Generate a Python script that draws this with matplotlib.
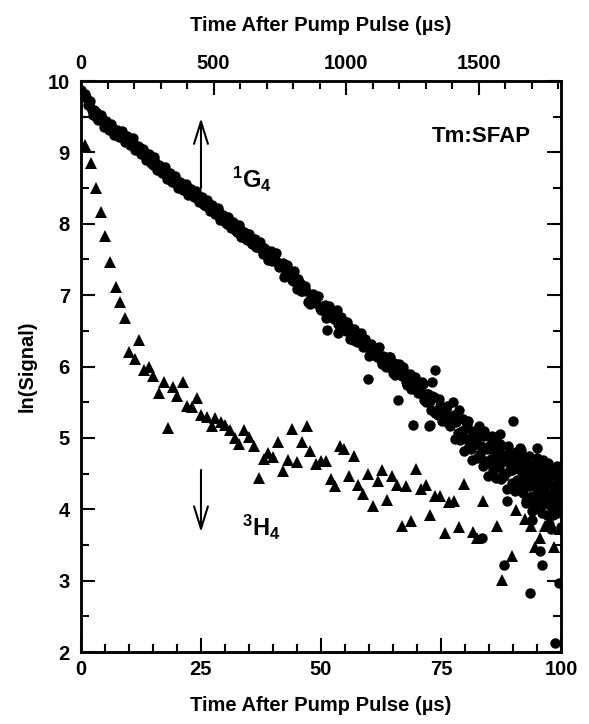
import numpy as np
import matplotlib
matplotlib.use('Agg')
import matplotlib.pyplot as plt
from matplotlib.ticker import MultipleLocator

plt.rcParams['font.family'] = ['Liberation Sans', 'DejaVu Sans']
plt.rcParams['font.weight'] = 'bold'
plt.rcParams['axes.labelweight'] = 'bold'
plt.rcParams['mathtext.fontset'] = 'custom'
plt.rcParams['mathtext.rm'] = 'Liberation Sans:bold'
plt.rcParams['mathtext.bf'] = 'Liberation Sans:bold'
plt.rcParams['mathtext.default'] = 'rm'

# 3H4 decay, bottom axis (us)
h4_t = [0.8, 2.0, 3.1, 4.1, 5.1, 6.1, 7.2, 8.2, 9.2, 10.0,
        11.2, 12.1, 13.1, 14.1, 15.1, 16.2, 17.2, 18.2, 19.2, 20.1,
        21.2, 22.1, 23.2, 24.1, 25.1, 26.2, 27.2, 28.0, 29.1, 30.1,
        31.0, 32.1, 33.0, 34.0, 35.0, 36.0, 37.0, 38.1, 39.0, 40.1,
        41.0, 42.0, 43.1, 44.0, 45.1, 46.0, 47.0, 47.8, 49.0, 50.0,
        51.0, 52.0, 52.9, 53.9, 54.9, 55.9, 56.9, 57.8, 58.8, 59.9,
        60.8, 61.8, 62.8, 63.8, 64.7, 65.8, 66.8, 67.8, 68.8, 69.8,
        70.8, 71.8, 72.7, 73.8, 74.8, 75.8, 76.7, 77.8, 78.8, 79.8,
        81.6, 82.6, 83.7, 86.6, 87.8, 89.7, 90.7, 92.6, 93.7, 94.6,
        95.7, 96.6, 98.6, 99.8]
h4_ln = [9.10, 8.85, 8.50, 8.16, 7.83, 7.46, 7.12, 6.91, 6.68, 6.21,
         6.11, 6.37, 5.95, 5.99, 5.87, 5.63, 5.78, 5.14, 5.71, 5.59,
         5.79, 5.45, 5.43, 5.56, 5.32, 5.29, 5.16, 5.28, 5.22, 5.18,
         5.11, 5.00, 4.92, 5.11, 5.01, 4.89, 4.44, 4.70, 4.79, 4.73,
         4.94, 4.54, 4.69, 5.13, 4.66, 4.94, 5.17, 4.82, 4.64, 4.67,
         4.68, 4.43, 4.32, 4.88, 4.85, 4.46, 4.74, 4.34, 4.21, 4.50,
         4.04, 4.40, 4.55, 4.13, 4.47, 4.34, 3.77, 4.33, 3.83, 4.56,
         4.29, 4.34, 3.92, 4.19, 4.19, 3.67, 4.10, 4.11, 3.75, 4.36,
         3.68, 3.60, 4.12, 3.77, 3.01, 3.35, 3.99, 3.86, 3.76, 3.47,
         3.60, 3.77, 3.47, 3.72]

# 1G4 decay, top axis (us): main sweep
g4_t = [0, 10, 20, 30, 40, 50, 60, 70, 80, 90,
        100, 110, 120, 130, 140, 150, 160, 170, 180, 190,
        200, 210, 220, 230, 240, 250, 260, 270, 280, 290,
        300, 310, 320, 330, 340, 350, 360, 370, 380, 390,
        400, 410, 420, 430, 440, 450, 460, 470, 480, 490,
        500, 510, 520, 530, 540, 550, 560, 570, 580, 590,
        600, 610, 620, 630, 640, 650, 660, 670, 680, 690,
        700, 710, 720, 730, 740, 750, 760, 770, 780, 790,
        800, 810, 820, 830, 840, 850, 860, 870, 880, 890,
        900, 910, 920, 930, 940, 950, 960, 970, 980, 990,
        1000, 1010, 1020, 1030, 1040, 1050, 1060, 1070, 1080, 1090,
        1100, 1110, 1120, 1130, 1140, 1150, 1160, 1170, 1180, 1190,
        1200, 1210, 1220, 1230, 1240, 1250, 1260, 1270, 1280, 1290,
        1300, 1310, 1320, 1330, 1340, 1350, 1360, 1370, 1380, 1390,
        1400, 1405, 1410, 1415, 1420, 1425, 1430, 1435, 1440, 1445,
        1450, 1455, 1460, 1465, 1470, 1475, 1480, 1485, 1490, 1495,
        1500, 1505, 1510, 1515, 1520, 1525, 1530, 1535, 1540, 1545,
        1550, 1555, 1560, 1565, 1570, 1575, 1580, 1585, 1590, 1595,
        1600, 1605, 1610, 1615, 1620, 1625, 1630, 1635, 1640, 1645,
        1650, 1655, 1660, 1665, 1670, 1675, 1680, 1685, 1690, 1695,
        1700, 1705, 1710, 1715, 1720, 1725, 1730, 1735, 1740, 1745,
        1750, 1755, 1760, 1765, 1770, 1775, 1780, 1785, 1790, 1795,
        1800, 1805, 1810]
g4_ln = [9.88, 9.77, 9.78, 9.68, 9.60, 9.59, 9.48, 9.49, 9.47, 9.39,
         9.34, 9.39, 9.30, 9.31, 9.27, 9.21, 9.25, 9.21, 9.13, 9.18,
         9.11, 9.05, 9.08, 9.02, 8.99, 8.91, 8.94, 8.83, 8.86, 8.80,
         8.74, 8.77, 8.68, 8.70, 8.65, 8.58, 8.62, 8.54, 8.56, 8.49,
         8.47, 8.49, 8.40, 8.43, 8.35, 8.37, 8.33, 8.25, 8.29, 8.20,
         8.22, 8.13, 8.17, 8.08, 8.09, 8.00, 8.05, 7.96, 7.98, 7.88,
         7.92, 7.85, 7.80, 7.85, 7.75, 7.78, 7.68, 7.73, 7.64, 7.66,
         7.57, 7.60, 7.48, 7.58, 7.47, 7.41, 7.45, 7.28, 7.34, 7.34,
         7.20, 7.19, 7.22, 7.06, 7.07, 7.06, 6.92, 6.99, 6.91, 6.98,
         6.82, 6.84, 6.86, 6.69, 6.77, 6.78, 6.66, 6.59, 6.69, 6.59,
         6.50, 6.56, 6.46, 6.53, 6.34, 6.40, 6.31, 6.38, 6.28, 6.17,
         6.27, 6.17, 6.26, 6.09, 6.15, 6.00, 6.13, 6.02, 6.05, 5.90,
         6.03, 5.87, 5.91, 5.74, 5.89, 5.74, 5.85, 5.63, 5.69, 5.76,
         5.50, 5.61, 5.39, 5.58, 5.38, 5.54, 5.24, 5.36, 5.44, 5.16,
         5.28, 5.32, 4.99, 5.22, 5.07, 5.39, 4.97, 5.10, 5.27, 4.82,
         5.13, 4.98, 5.24, 4.88, 5.00, 4.69, 5.10, 4.91, 5.02, 4.72,
         5.16, 4.78, 4.89, 4.61, 5.02, 4.68, 4.84, 4.47, 4.89, 4.70,
         4.96, 4.55, 4.71, 4.44, 4.78, 4.59, 4.92, 4.42, 4.67, 4.47,
         4.76, 4.29, 4.66, 4.53, 4.76, 4.37, 4.56, 4.25, 4.66, 4.41,
         4.74, 4.33, 4.54, 4.23, 4.45, 4.62, 4.11, 4.52, 4.33, 4.62,
         4.19, 4.42, 4.10, 4.49, 4.30, 4.62, 4.19, 4.34, 4.07, 4.49,
         4.22, 4.55, 4.08, 4.36, 4.15, 4.48, 3.97, 4.29, 4.08, 4.37,
         4.18, 4.45, 4.11]

# 1G4: interleaved second sweep
g4_t2 = [5, 15, 25, 35, 45, 55, 65, 75, 85, 95,
         105, 115, 125, 135, 145, 155, 165, 175, 185, 195,
         205, 215, 225, 235, 245, 255, 265, 275, 285, 295,
         305, 315, 325, 335, 345, 355, 365, 375, 385, 395,
         405, 415, 425, 435, 445, 455, 465, 475, 485, 495,
         505, 515, 525, 535, 545, 555, 565, 575, 585, 595,
         605, 615, 625, 635, 645, 655, 665, 675, 685, 695,
         705, 715, 725, 735, 745, 755, 765, 775, 785, 795,
         805, 815, 825, 835, 845, 855, 865, 875, 885, 895,
         905, 915, 925, 935, 945, 955, 965, 975, 985, 995,
         1005, 1015, 1025, 1035, 1045, 1055, 1065, 1075, 1085, 1095,
         1105, 1115, 1125, 1135, 1145, 1155, 1165, 1175, 1185, 1195,
         1205, 1215, 1225, 1235, 1245, 1255, 1265, 1275, 1285, 1295,
         1305, 1315, 1325, 1335, 1345, 1355, 1365, 1375, 1385, 1395]
g4_ln2 = [9.80, 9.82, 9.67, 9.72, 9.52, 9.57, 9.45, 9.52, 9.36, 9.44,
          9.32, 9.40, 9.24, 9.32, 9.21, 9.30, 9.15, 9.23, 9.11, 9.20,
          9.03, 9.09, 8.98, 9.05, 8.90, 8.98, 8.85, 8.93, 8.75, 8.82,
          8.71, 8.79, 8.63, 8.71, 8.59, 8.67, 8.50, 8.58, 8.47, 8.56,
          8.41, 8.49, 8.38, 8.46, 8.30, 8.37, 8.26, 8.33, 8.18, 8.26,
          8.14, 8.22, 8.05, 8.12, 8.01, 8.09, 7.94, 8.02, 7.90, 7.98,
          7.81, 7.88, 7.77, 7.86, 7.71, 7.79, 7.67, 7.75, 7.57, 7.65,
          7.49, 7.62, 7.49, 7.59, 7.39, 7.44, 7.26, 7.42, 7.30, 7.21,
          7.34, 7.08, 7.17, 7.06, 7.13, 6.90, 6.88, 7.01, 6.89, 6.99,
          6.79, 6.85, 6.68, 6.85, 6.74, 6.66, 6.79, 6.55, 6.64, 6.55,
          6.63, 6.39, 6.37, 6.49, 6.37, 6.47, 6.27, 6.32, 6.15, 6.32,
          6.21, 6.13, 6.28, 6.04, 6.14, 6.06, 6.14, 5.91, 5.88, 6.01,
          5.89, 5.99, 5.79, 5.85, 5.68, 5.84, 5.73, 5.64, 5.78, 5.53,
          5.62, 5.52, 5.59, 5.35, 5.32, 5.44, 5.32, 5.41, 5.21, 5.26]

# 1G4: stray points off the main band and late-time scatter
g4_t3 = [926, 970, 1083, 1196, 1253, 1316, 1334, 1322, 1403, 1313,
         1630, 1718, 1661, 1743, 1806, 1596, 1514, 1730, 1737, 1695,
         1802, 1786, 1699, 1756, 1780, 1774, 1605, 1680, 1749, 1656,
         1580, 1550, 1520, 1565, 1610, 1640, 1690, 1720, 1760, 1795,
         1700, 1765, 1810, 1790,
         1455, 1470, 1490, 1510, 1530, 1545, 1560, 1575, 1590, 1615,
         1625, 1645, 1660, 1670, 1685, 1705, 1715, 1725, 1735, 1745,
         1755, 1770, 1785, 1800, 1810, 1795, 1740, 1710]
g4_ln3 = [6.51, 6.47, 5.82, 5.53, 5.18, 5.18, 5.95, 5.79, 5.50, 5.17,
          5.24, 4.86, 4.83, 4.69, 4.54, 3.22, 3.60, 3.41, 3.22, 2.83,
          2.97, 2.12, 3.97, 3.92, 3.92, 3.73, 4.11, 4.09, 4.09, 4.86,
          5.05, 5.02, 5.10, 4.95, 4.88, 4.80, 4.75, 4.72, 4.65, 4.60,
          3.85, 3.80, 3.75, 4.50,
          5.20, 4.85, 4.95, 5.05, 4.65, 4.85, 4.60, 4.85, 4.50, 4.70,
          4.55, 4.60, 4.40, 4.70, 4.35, 4.55, 4.20, 4.40, 4.55, 4.25,
          4.40, 4.55, 4.20, 4.50, 4.30, 3.95, 3.95, 4.00]

fig = plt.figure(figsize=(5.89, 7.24), dpi=100)
ax = fig.add_axes([0.1375, 0.0994, 0.8149, 0.7887])
ax2 = ax.twiny()

ax.plot(h4_t, h4_ln, '^', color='black', markersize=8, markeredgewidth=0)
for tt, yy in ((g4_t, g4_ln), (g4_t2, g4_ln2), (g4_t3, g4_ln3)):
    ax2.plot(tt, yy, 'o', color='black', markersize=7.5, markeredgewidth=0)

ax.set_xlim(0, 100)
ax.set_ylim(2, 10)
ax2.set_xlim(0, 1810)

ax.xaxis.set_major_locator(MultipleLocator(25))
ax.xaxis.set_minor_locator(MultipleLocator(5))
ax.yaxis.set_major_locator(MultipleLocator(1))
ax.yaxis.set_minor_locator(MultipleLocator(0.5))
ax2.xaxis.set_major_locator(MultipleLocator(500))
ax2.xaxis.set_minor_locator(MultipleLocator(100))

ax.tick_params(which='both', direction='in', width=1.5, labelsize=14.5,
               top=False, right=True)
ax.tick_params(which='major', length=10)
ax.tick_params(which='minor', length=6)
ax.tick_params(axis='x', pad=6)
ax.tick_params(axis='y', pad=8)
ax2.tick_params(which='both', direction='in', width=1.5, labelsize=14.5, pad=6)
ax2.tick_params(which='major', length=10)
ax2.tick_params(which='minor', length=6)

for a in (ax, ax2):
    for s in a.spines.values():
        s.set_linewidth(1.8)

ax.set_xlabel('Time After Pump Pulse (µs)', fontsize=14.5, fontweight='bold', labelpad=12)
ax2.set_xlabel('Time After Pump Pulse (µs)', fontsize=14.5, fontweight='bold', labelpad=16)
ax.set_ylabel('ln(Signal)', fontsize=14.5, fontweight='bold', labelpad=8)

arrow = dict(arrowstyle='->,head_length=1.6,head_width=0.5', lw=1.5,
             color='black', shrinkA=0, shrinkB=0)
ax.annotate('', xy=(25, 9.48), xytext=(25, 8.5), arrowprops=arrow)
ax.annotate('', xy=(25, 3.68), xytext=(25, 4.55), arrowprops=arrow)

ax.text(31.5, 8.62, r'$^{1}$G$_{4}$', fontsize=17, va='center')
ax.text(33.5, 3.74, r'$^{3}$H$_{4}$', fontsize=17, va='center')
ax.text(73, 9.22, 'Tm:SFAP', fontsize=16, va='center')

fig.savefig('out.png', dpi=100)
